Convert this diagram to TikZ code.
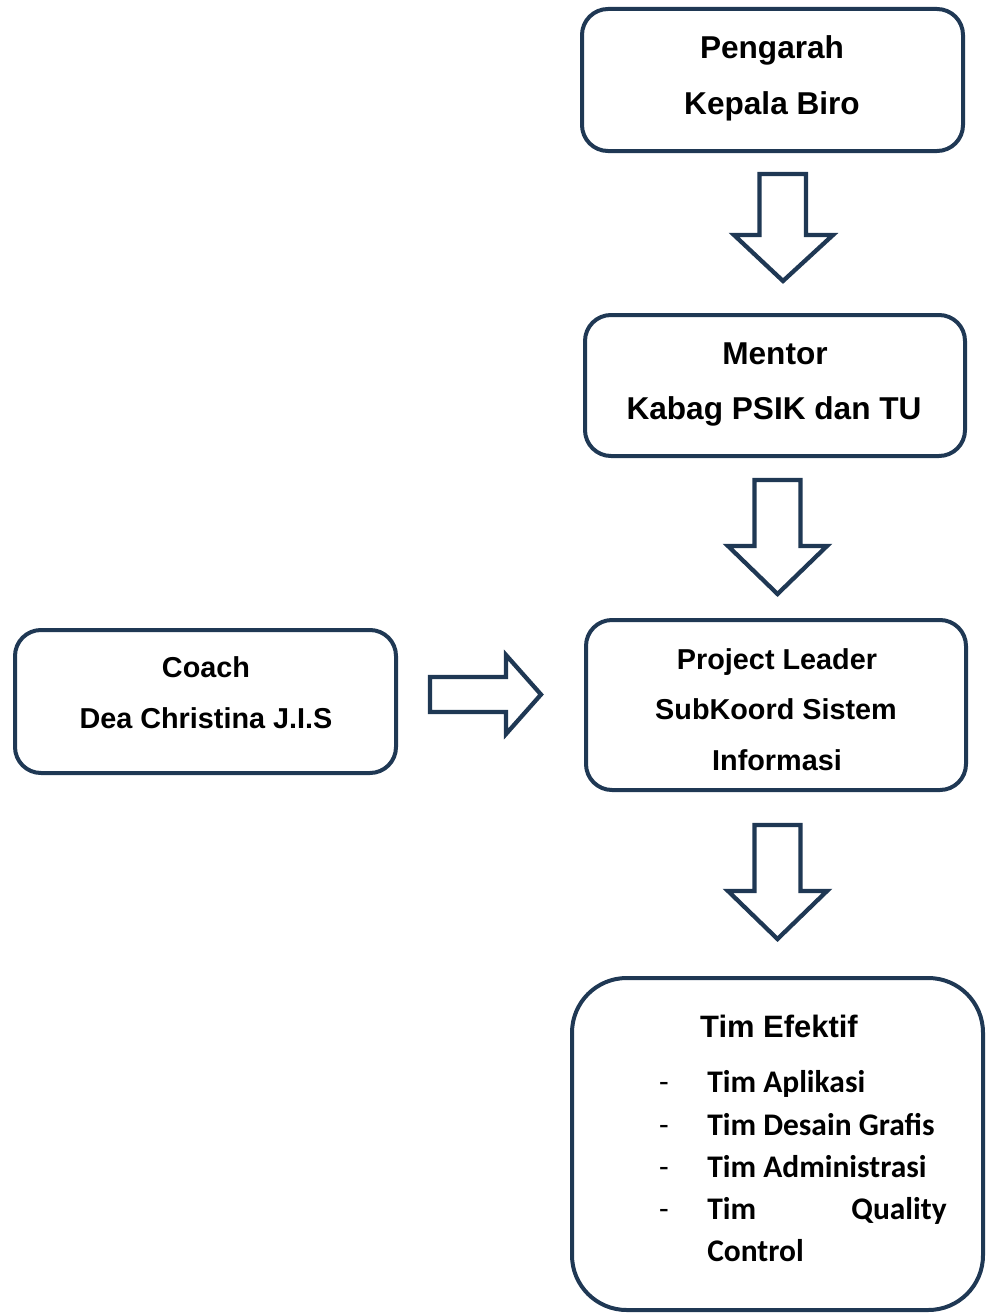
\documentclass[tikz,border=0pt]{standalone}
\usepackage{fontspec}
\setmainfont{Liberation Sans}
\newfontfamily\listfont{Carlito}
\definecolor{navy}{RGB}{31,56,84}
\tikzset{
  box/.style={draw=navy, line width=3pt, rounded corners=19.5pt, inner sep=0pt},
  blockarrow/.style={draw=navy, line width=3.2pt, fill=white},
  bigtext/.style={font=\bfseries\fontsize{23.7}{28}\selectfont, anchor=base, inner sep=0pt},
  midtext/.style={font=\bfseries\fontsize{21.6}{26}\selectfont, anchor=base, inner sep=0pt},
  listtext/.style={font=\listfont\bfseries\fontsize{23.6}{28}\selectfont, anchor=base west, inner sep=0pt},
  dashtext/.style={font=\listfont\fontsize{23.6}{28}\selectfont, anchor=base, inner sep=0pt}
}
\begin{document}
\begin{tikzpicture}[x=0.75pt, y=-0.75pt]
    \useasboundingbox (0,0) rectangle (986,1313);

    % boxes
    \node[box, minimum width=285.75pt, minimum height=106.5pt] (pengarah) at (772.5,80) {};
    \node[box, minimum width=285pt, minimum height=105.75pt] (mentor) at (775,385.5) {};
    \node[box, minimum width=285pt, minimum height=127.5pt] (leader) at (776,705) {};
    \node[box, minimum width=285.75pt, minimum height=107.25pt] (coach) at (205.5,701.5) {};
    \node[box, rounded corners=41pt, minimum width=308.25pt, minimum height=249pt] (tim) at (777.5,1144) {};

    % texts
    \node[bigtext] (pengarahA) at (772,58.5) {Pengarah};
    \node[bigtext] (pengarahB) at (772,114) {Kepala Biro};
    \node[bigtext] (mentorA) at (775,364.5) {Mentor};
    \node[bigtext] (mentorB) at (774,419.5) {Kabag PSIK dan TU};
    \node[midtext] (leaderA) at (777,669.5) {Project Leader};
    \node[midtext] (leaderB) at (776,719.5) {SubKoord Sistem};
    \node[midtext] (leaderC) at (777,770) {Informasi};
    \node[midtext] (coachA) at (206,677.5) {Coach};
    \node[midtext] (coachB) at (206,728.5) {Dea Christina J.I.S};
    \node[font=\bfseries\fontsize{23.2}{28}\selectfont, anchor=base, inner sep=0pt] (timA) at (779,1037) {Tim Efektif};

    % list
    \node[dashtext] (dash1) at (664,1092) {-};
    \node[dashtext] (dash2) at (664,1135) {-};
    \node[dashtext] (dash3) at (664,1177) {-};
    \node[dashtext] (dash4) at (664,1219) {-};
    \node[listtext] (list1) at (707,1092) {Tim Aplikasi};
    \node[listtext] (list2) at (707,1135) {Tim Desain Grafis};
    \node[listtext] (list3) at (707,1177) {Tim Administrasi};
    \node[listtext] (list4) at (707,1219) {Tim};
    \node[listtext, anchor=base east] (list4b) at (947,1219) {Quality};
    \node[listtext] (list5) at (707,1261) {Control};

    % block arrows
    \draw[blockarrow] (759.5,174) -- (806,174) -- (806,235) -- (833,235)
                -- (783,281) -- (734,235) -- (759.5,235) -- cycle;
    \draw[blockarrow] (754.5,480) -- (800.5,480) -- (800.5,546) -- (827,546)
                -- (777.5,594) -- (728,546) -- (754.5,546) -- cycle;
    \draw[blockarrow] (754.5,825) -- (800.5,825) -- (800.5,891) -- (827,891)
                -- (777.5,939) -- (728,891) -- (754.5,891) -- cycle;
    \draw[blockarrow] (430,677) -- (506,677) -- (506,655) -- (541,694.5)
                -- (506,734) -- (506,712) -- (430,712) -- cycle;
\end{tikzpicture}
\end{document}
